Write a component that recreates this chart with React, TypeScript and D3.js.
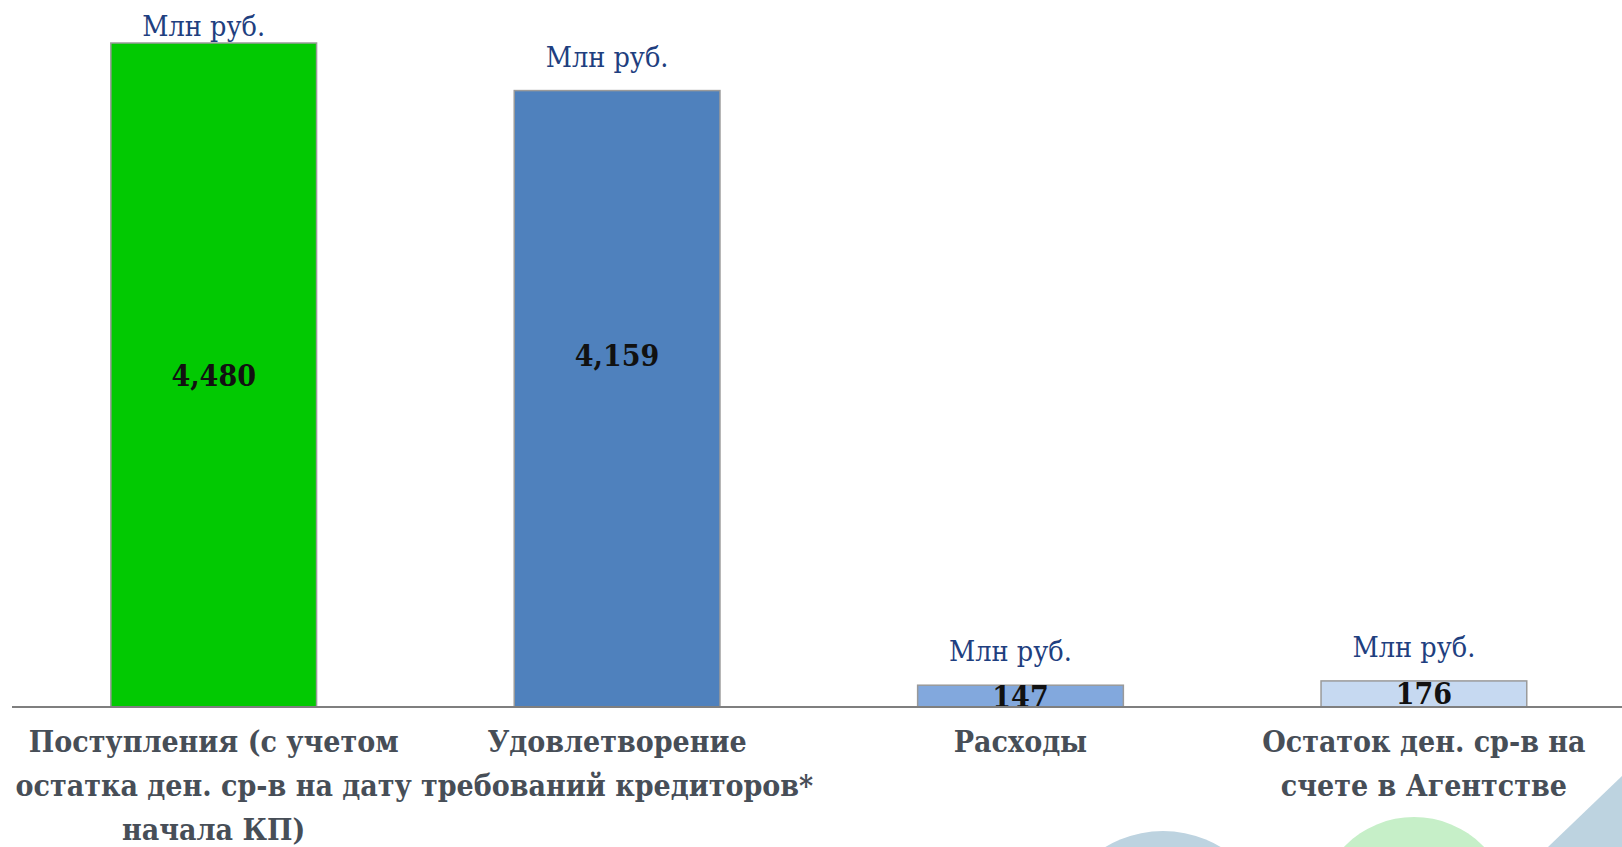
import * as d3 from "d3";

const categories = ["Поступления", "Удовлетворение", "Расходы", "Остаток"];
const categoryLines = [
  ["Поступления (с учетом", "остатка ден. ср-в на дату", "начала КП)"],
  ["Удовлетворение", "требований кредиторов*"],
  ["Расходы"],
  ["Остаток ден. ср-в на", "счете в Агентстве"],
];
const values = [4480, 4159, 147, 176];
const unitLabel = "Млн руб.";
const barColors = ["#02c902", "#4f81bd", "#82a8dd", "#c6d9f1"];

const W = 1622;
const H = 847;
const baseY = 707;
const serif = "'DejaVu Serif Condensed', 'DejaVu Serif', serif";

export default function App() {
  const x = d3
    .scaleBand<string>()
    .domain(categories)
    .range([12, 1625.6])
    .paddingInner(0.49)
    .paddingOuter(0.245);
  const y = d3.scaleLinear().domain([0, 4480]).range([baseY, 43]);
  const fmt = d3.format(",");

  return (
    <svg
      width={W}
      height={H}
      style={{ position: "absolute", left: 0, top: 0, background: "#fff", fontFamily: serif, fontStretch: "condensed" }}
    >
      <defs>
        <filter id="soft" x="-5%" y="-50%" width="110%" height="200%">
          <feGaussianBlur stdDeviation="0.6" />
        </filter>
      </defs>
      {/* background decorations */}
      <circle cx={1163} cy={943} r={112} fill="#bdd3e0" />
      <circle cx={1414} cy={914} r={97} fill="#c6efc8" />
      <path d="M1548,847L1622,776L1622,847Z" fill="#bdd3e0" />

      {categories.map((c, i) => {
        const bx = x(c)!;
        const bw = x.bandwidth();
        const top = y(values[i]);
        const cx = bx + bw / 2;
        // the second label sits higher in the original
        const midY = i === 1 ? top + (baseY - top) * 0.43 : (top + baseY) / 2;
        return (
          <g key={c}>
            <rect
              x={bx}
              y={top}
              width={bw}
              height={baseY - top}
              fill={barColors[i]}
              stroke="#9a9a9a"
              strokeWidth={1.5}
            />
            <text
              x={cx - 10}
              y={Math.max(36, top - 24)}
              textAnchor="middle"
              fontSize={28.5}
              fill="#1f3f80"
            >
              {unitLabel}
            </text>
            <text
              x={cx}
              y={midY}
              textAnchor="middle"
              dominantBaseline="central"
              fontSize={30}
              fontWeight="bold"
              fill="#111"
            >
              {fmt(values[i])}
            </text>
            {categoryLines[i].map((line, j) => (
              <text
                key={j}
                x={cx}
                y={752 + j * 44}
                textAnchor="middle"
                fontSize={30}
                fontWeight="bold"
                fill="#474e57"
              >
                {line}
              </text>
            ))}
          </g>
        );
      })}
      <line
        x1={12}
        x2={W}
        y1={baseY + 1}
        y2={baseY + 1}
        stroke="#9a9a9a"
        strokeWidth={4}
        filter="url(#soft)"
      />
      <line x1={12} x2={W} y1={baseY} y2={baseY} stroke="#7f7f7f" strokeWidth={2} />
    </svg>
  );
}
